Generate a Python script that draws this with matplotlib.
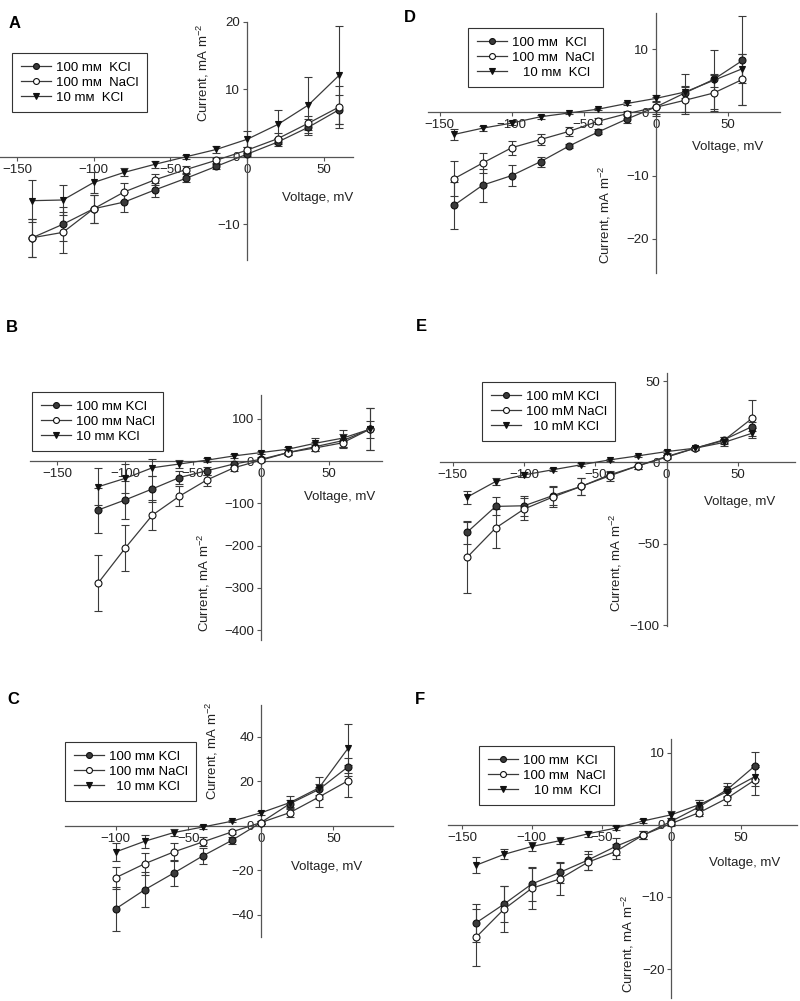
import matplotlib
matplotlib.use('Agg')
import matplotlib.pyplot as plt
import numpy as np

plt.rcParams['font.family'] = ['Liberation Sans', 'DejaVu Sans']
plt.rcParams['mathtext.fontset'] = 'custom'
plt.rcParams['mathtext.rm'] = 'Liberation Sans'

# ---- data (voltage in mV, current in mA m-2) ----
v_A = [-140, -120, -100, -80, -60, -40, -20, 0, 20, 40, 60]
kcl_A = [-12.0, -10.0, -7.7, -6.7, -4.9, -3.2, -1.4, 0.4, 2.2, 4.4, 7.0]
nacl_A = [-12.0, -11.2, -7.7, -5.2, -3.4, -1.9, -0.5, 1.0, 2.7, 5.0, 7.4]
k10_A = [-6.5, -6.4, -3.8, -2.3, -1.1, 0.0, 1.1, 2.6, 4.8, 7.7, 12.1]
kcl_A_err = [2.8, 2.5, 2.1, 1.5, 1.0, 0.6, 0.4, 0.3, 0.6, 1.2, 2.2]
nacl_A_err = [2.8, 3.0, 2.1, 1.3, 0.8, 0.5, 0.4, 0.5, 0.8, 1.0, 3.1]
k10_A_err = [3.1, 2.2, 1.5, 0.6, 0.5, 0.3, 0.5, 1.2, 2.2, 4.2, 7.3]

v_B = [-120, -100, -80, -60, -40, -20, 0, 20, 40, 60, 80]
kcl_B = [-116, -92, -66, -39, -23, -7, 4, 20, 34, 48, 75]
nacl_B = [-289, -206, -128, -83, -45, -16, 2, 20, 31, 43, 75]
k10_B = [-61, -41, -16, -7, 2, 12, 20, 28, 42, 54, 75]
kcl_B_err = [53, 45, 30, 15, 10, 6, 5, 6, 10, 15, 50]
nacl_B_err = [66, 55, 35, 23, 13, 8, 4, 5, 8, 12, 50]
k10_B_err = [44, 35, 20, 10, 5, 4, 4, 6, 12, 20, 20]

v_C = [-100, -80, -60, -40, -20, 0, 20, 40, 60]
kcl_C = [-37.3, -28.7, -21.2, -13.5, -6.5, 1.5, 10.0, 16.4, 26.6]
nacl_C = [-23.3, -17.0, -11.7, -7.2, -2.7, 1.5, 6.0, 13.0, 20.3]
k10_C = [-11.7, -6.9, -3.0, -0.5, 2.1, 5.9, 10.5, 17.1, 34.9]
kcl_C_err = [10.0, 8.0, 6.0, 3.5, 1.5, 0.8, 1.5, 2.5, 4.0]
nacl_C_err = [5.0, 5.0, 4.0, 2.0, 1.0, 0.8, 2.0, 4.5, 7.3]
k10_C_err = [4.0, 3.0, 1.5, 1.0, 0.5, 1.0, 3.0, 5.0, 11.0]

v_D = [-140, -120, -100, -80, -60, -40, -20, 0, 20, 40, 60]
kcl_D = [-14.7, -11.5, -10.0, -7.8, -5.3, -3.1, -1.05, 0.85, 3.05, 5.2, 8.2]
nacl_D = [-10.5, -8.0, -5.6, -4.3, -3.0, -1.4, -0.2, 0.8, 1.9, 3.05, 5.2]
k10_D = [-3.5, -2.5, -1.7, -0.7, -0.1, 0.5, 1.4, 2.2, 3.2, 5.05, 6.9]
kcl_D_err = [3.7, 2.6, 1.6, 0.8, 0.3, 0.4, 0.6, 1.5, 3.0, 4.7, 7.1]
nacl_D_err = [2.8, 1.6, 1.1, 0.9, 0.7, 0.5, 0.4, 1.0, 2.1, 2.8, 4.0]
k10_D_err = [0.8, 0.4, 0.3, 0.3, 0.2, 0.2, 0.3, 0.5, 1.0, 1.0, 2.3]

v_E = [-140, -120, -100, -80, -60, -40, -20, 0, 20, 40, 60]
kcl_E = [-42.9, -27.0, -26.6, -20.4, -14.7, -7.6, -2.0, 3.7, 8.8, 13.9, 22.1]
nacl_E = [-58.3, -40.3, -28.6, -21.3, -14.7, -8.2, -2.0, 3.3, 8.8, 13.5, 27.2]
k10_E = [-21.3, -11.7, -7.6, -4.5, -1.4, 1.6, 4.1, 6.7, 8.8, 12.3, 18.0]
kcl_E_err = [7, 5.5, 6, 6, 5, 2, 2, 1, 1, 2, 3]
nacl_E_err = [22, 12, 7, 6, 5, 3, 2, 1, 1, 2, 11]
k10_E_err = [4, 2, 1.5, 1, 1, 0.5, 0.5, 1, 1, 2, 3]

v_F = [-140, -120, -100, -80, -60, -40, -20, 0, 20, 40, 60]
kcl_F = [-13.6, -11.0, -8.2, -6.6, -4.9, -3.0, -1.4, 0.5, 2.5, 4.9, 8.2]
nacl_F = [-15.6, -11.7, -8.8, -7.5, -5.2, -3.7, -1.4, 0.2, 1.7, 3.7, 6.25]
k10_F = [-5.6, -4.1, -3.0, -2.2, -1.25, -0.45, 0.55, 1.4, 2.8, 4.6, 6.7]
kcl_F_err = [2.6, 2.5, 2.4, 1.5, 1.3, 1.2, 0.5, 0.4, 1.0, 0.9, 1.9]
nacl_F_err = [4.0, 3.2, 2.8, 2.2, 1.1, 1.0, 0.5, 0.3, 0.5, 1.0, 2.1]
k10_F_err = [1.1, 0.7, 0.6, 0.5, 0.4, 0.3, 0.3, 0.5, 0.6, 0.8, 1.3]

mm = 'm\u1d0d'
labels_A = ['100 %s  KCl' % mm, '100 %s  NaCl' % mm, '10 %s  KCl' % mm]
labels_B = ['100 %s KCl' % mm, '100 %s NaCl' % mm, '10 %s KCl' % mm]
labels_C = ['100 %s KCl' % mm, '100 %s NaCl' % mm, '  10 %s KCl' % mm]
labels_D = ['100 %s  KCl' % mm, '100 %s  NaCl' % mm, '   10 %s  KCl' % mm]
labels_E = ['100 mM KCl', '100 mM NaCl', '  10 mM KCl']
labels_F = labels_D

W, H = 800, 1001
fig = plt.figure(figsize=(W / 100, H / 100), dpi=100)

FS = 9.5
LINE = '#3a3a3a'
AX = '#555555'


def px_rect(l, r, t, b):
    return [l / W, 1 - b / H, (r - l) / W, (b - t) / H]


def panel(letter, rect, xlim, ylim, xticks, yticks, v, series, labels,
          leg_xy, ylab_xy, xlab_xy, let_xy):
    ax = fig.add_axes(px_rect(*rect))
    ax.set_xlim(*xlim)
    ax.set_ylim(*ylim)
    for s in ['top', 'right']:
        ax.spines[s].set_visible(False)
    ax.spines['left'].set_position(('data', 0))
    ax.spines['bottom'].set_position(('data', 0))
    for s in ['left', 'bottom']:
        ax.spines[s].set_color(AX)
        ax.spines[s].set_linewidth(0.9)
    ax.set_xticks(xticks)
    ax.set_yticks(yticks)
    ax.tick_params(direction='out', length=3, width=0.8, color=AX,
                   labelsize=FS, labelcolor='#222222', pad=2)
    ax.patch.set_alpha(0)

    handles = []
    for (y, err), mk, fc in zip(series, ['o', 'o', 'v'], [LINE, 'white', '#111111']):
        ax.errorbar(v, y, yerr=err, fmt='none', ecolor=LINE, elinewidth=0.8,
                    capsize=3, capthick=0.8, zorder=3, clip_on=False)
        ln, = ax.plot(v, y, color=LINE, lw=0.9, marker=mk, ms=5,
                      mfc=fc, mec='#111111', mew=0.8, zorder=4, clip_on=False)
        handles.append(ln)

    leg = ax.legend(handles, labels, loc='upper left',
                    bbox_to_anchor=(leg_xy[0] / W, 1 - leg_xy[1] / H),
                    bbox_transform=fig.transFigure, fontsize=FS, frameon=True,
                    fancybox=False, edgecolor='#333333', framealpha=1,
                    borderaxespad=0, handlelength=2.3, handletextpad=0.35,
                    labelspacing=0.2, borderpad=0.65, markerscale=0.85)
    leg.get_frame().set_linewidth(0.8)

    fig.text(ylab_xy[0] / W, 1 - ylab_xy[1] / H,
             'Current, mA m$^{\\mathregular{-2}}$', rotation=90,
             ha='center', va='center', fontsize=FS, color='#222222')
    fig.text(xlab_xy[0] / W, 1 - xlab_xy[1] / H, 'Voltage, mV',
             ha='center', va='center', fontsize=FS, color='#222222')
    fig.text(let_xy[0] / W, 1 - let_xy[1] / H, letter, ha='center',
             va='center', fontsize=12, fontweight='bold')
    return ax


xt = [-150, -100, -50, 0, 50]

panel('A', (0, 353, 22, 260), (-161, 69), (-15.3, 20), xt, [-10, 0, 10, 20],
      v_A, [(kcl_A, kcl_A_err), (nacl_A, nacl_A_err), (k10_A, k10_A_err)],
      labels_A, (12, 53), (203, 73), (318, 198), (15, 23))

panel('D', (428, 780, 13, 273), (-158, 86), (-25.4, 15.7), xt, [-20, -10, 0, 10],
      v_D, [(kcl_D, kcl_D_err), (nacl_D, nacl_D_err), (k10_D, k10_D_err)],
      labels_D, (468, 28), (605, 215), (728, 147), (410, 17))

panel('B', (30, 382, 395, 640), (-170, 89), (-423, 156), xt,
      [-400, -300, -200, -100, 0, 100],
      v_B, [(kcl_B, kcl_B_err), (nacl_B, nacl_B_err), (k10_B, k10_B_err)],
      labels_B, (32, 392), (204, 583), (340, 497), (12, 328))

panel('E', (440, 795, 373, 626), (-159, 90), (-100.5, 55), xt, [-100, -50, 0, 50],
      v_E, [(kcl_E, kcl_E_err), (nacl_E, nacl_E_err), (k10_E, k10_E_err)],
      labels_E, (482, 382), (616, 563), (740, 502), (421, 327))

panel('C', (65, 393, 705, 937), (-135, 91), (-50, 54.4), [-100, -50, 0, 50],
      [-40, -20, 0, 20, 40],
      v_C, [(kcl_C, kcl_C_err), (nacl_C, nacl_C_err), (k10_C, k10_C_err)],
      labels_C, (65, 742), (212, 751), (327, 867), (13, 699))

panel('F', (448, 797, 739, 998), (-160, 90), (-24.0, 11.9), xt, [-20, -10, 0, 10],
      v_F, [(kcl_F, kcl_F_err), (nacl_F, nacl_F_err), (k10_F, k10_F_err)],
      labels_F, (479, 746), (628, 944), (745, 863), (420, 699))

fig.savefig('out.png', dpi=100)
